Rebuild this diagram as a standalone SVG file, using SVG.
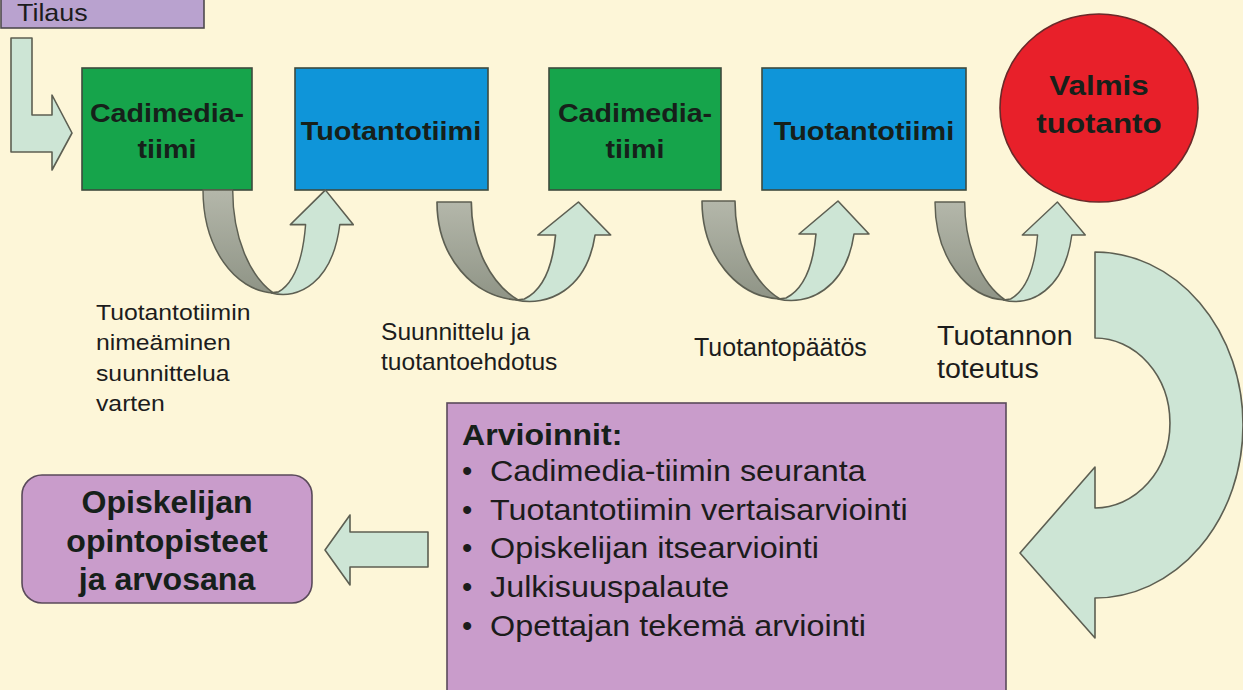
<svg xmlns="http://www.w3.org/2000/svg" width="1243" height="690" viewBox="0 0 1243 690">
<defs>
<linearGradient id="grayg" x1="0" y1="0" x2="0" y2="1">
<stop offset="0" stop-color="#b4b7aa"/>
<stop offset="1" stop-color="#8f9486"/>
</linearGradient>
<style>
.t{font-family:"Liberation Sans",Arial,sans-serif;fill:#1c1c1c}
.b{font-weight:bold;fill:#16201a}
.arrow{fill:#cde5d5;stroke:#5d5f52;stroke-width:1.6;stroke-linejoin:round}
.gray{fill:url(#grayg);stroke:#5d5f52;stroke-width:1.6;stroke-linejoin:round}
.box{stroke:#3e4a3e;stroke-width:1.6}
.purple{fill:#c99ccb;stroke:#5a4a5a;stroke-width:1.6}
</style>
<g id="uarrow">
<path class="gray" d="M0,0 H33 C33,45 52,82 78,98 C35,96 0,55 0,0 Z"/>
<path class="arrow" d="M76,98 C106,105 144,88 152,33 H167 L136,0 L97,33 H114 C111,66 102,88 84,97 Z"/>
</g>
</defs>
<rect x="0" y="0" width="1243" height="690" fill="#fdf6d8"/>

<g id="tilaus">
<rect x="1" y="-5" width="203" height="33" fill="#b9a2cf" stroke="#4e4a4e" stroke-width="1.6"/>
<text class="t" font-size="24" transform="translate(17,21) scale(1.12,1)">Tilaus</text>
</g>

<g id="cadimedia1">
<rect class="box" x="82" y="68" width="170" height="122" fill="#16a44b"/>
<text class="t b" font-size="26" text-anchor="middle" transform="translate(167,122) scale(1.1,1)">Cadimedia-</text>
<text class="t b" font-size="26" text-anchor="middle" transform="translate(167,158) scale(1.1,1)">tiimi</text>
</g>
<g id="tuotantotiimi1">
<rect class="box" x="295" y="68" width="193" height="122" fill="#0f95d9"/>
<text class="t b" font-size="26" text-anchor="middle" transform="translate(391,140) scale(1.11,1)">Tuotantotiimi</text>
</g>
<g id="cadimedia2">
<rect class="box" x="549" y="68" width="172" height="122" fill="#16a44b"/>
<text class="t b" font-size="26" text-anchor="middle" transform="translate(635,122) scale(1.1,1)">Cadimedia-</text>
<text class="t b" font-size="26" text-anchor="middle" transform="translate(635,158) scale(1.1,1)">tiimi</text>
</g>
<g id="tuotantotiimi2">
<rect class="box" x="762" y="68" width="204" height="122" fill="#0f95d9"/>
<text class="t b" font-size="26" text-anchor="middle" transform="translate(864,140) scale(1.11,1)">Tuotantotiimi</text>
</g>
<g id="valmis">
<ellipse cx="1099" cy="108" rx="99" ry="94" fill="#e8202a" stroke="#6a2a2a" stroke-width="1.6"/>
<text class="t b" font-size="28" text-anchor="middle" fill="#2a1a1a" transform="translate(1099,95) scale(1.12,1)">Valmis</text>
<text class="t b" font-size="28" text-anchor="middle" fill="#2a1a1a" transform="translate(1099,133) scale(1.12,1)">tuotanto</text>
</g>

<g id="connectors">
<path class="arrow" d="M11,38 H32 V115 H52 V95 L72,133 L52,170 V152 H11 Z"/>
<use href="#uarrow" transform="translate(203,190) scale(0.9,1.05)"/>
<use href="#uarrow" transform="translate(437,202) scale(1.04,1)"/>
<use href="#uarrow" transform="translate(702,201)"/>
<use href="#uarrow" transform="translate(935,202) scale(0.9,1)"/>
<path class="arrow" d="M1095,252 A148,173 0 0 1 1095,598 L1095,638 L1020,553 L1095,467 L1095,508 A75,85 0 0 0 1095,338 Z"/>
<path class="arrow" d="M428,532 V567 H350 V585 L325,550 L350,515 V532 Z"/>
</g>

<g id="labels">
<text class="t" font-size="22.5" transform="translate(96,320) scale(1.1,1)"><tspan x="0" y="0">Tuotantotiimin</tspan><tspan x="0" y="30">nimeäminen</tspan><tspan x="0" y="61">suunnittelua</tspan><tspan x="0" y="91">varten</tspan></text>
<text class="t" font-size="23" transform="translate(381,340) scale(1.07,1)"><tspan x="0" y="0">Suunnittelu ja</tspan><tspan x="0" y="30">tuotantoehdotus</tspan></text>
<text class="t" x="694" y="356" font-size="25">Tuotantopäätös</text>
<text class="t" font-size="27.5" transform="translate(937,345) scale(1.04,1)"><tspan x="0" y="0">Tuotannon</tspan><tspan x="0" y="33">toteutus</tspan></text>
</g>

<g id="arvioinnit">
<rect class="purple" x="447" y="403" width="559" height="300"/>
<text class="t b" font-size="30" fill="#1e1a1e" transform="translate(462,445) scale(1.07,1)">Arvioinnit:</text>
<g class="t" font-size="29.5" fill="#221a22">
<text x="462" y="481">•</text><text transform="translate(490,481) scale(1.097,1)">Cadimedia-tiimin seuranta</text>
<text x="462" y="520">•</text><text transform="translate(490,520) scale(1.097,1)">Tuotantotiimin vertaisarviointi</text>
<text x="462" y="558">•</text><text transform="translate(490,558) scale(1.097,1)">Opiskelijan itsearviointi</text>
<text x="462" y="597">•</text><text transform="translate(490,597) scale(1.097,1)">Julkisuuspalaute</text>
<text x="462" y="636">•</text><text transform="translate(490,636) scale(1.097,1)">Opettajan tekemä arviointi</text>
</g>
</g>

<g id="opintopisteet">
<rect class="purple" x="22" y="475" width="290" height="128" rx="20"/>
<text class="t b" font-size="31" text-anchor="middle" fill="#1e1a1e" transform="translate(167,513) scale(1.035,1)"><tspan x="0" y="0">Opiskelijan</tspan><tspan x="0" y="39">opintopisteet</tspan><tspan x="0" y="77">ja arvosana</tspan></text>
</g>
</svg>
